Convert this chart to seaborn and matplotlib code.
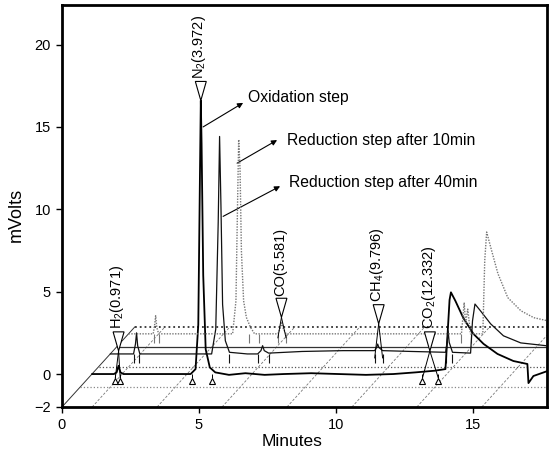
import numpy as np
import pandas as pd
import seaborn as sns
import matplotlib.pyplot as plt
from matplotlib.patches import Polygon

# ---- chromatograms: retention time (min) / signal above own baseline (mV)
ox_t = [0, 0.8, 0.9, 0.97, 1.04, 1.15, 2.0, 3.0, 3.6, 3.78, 3.88, 3.94, 3.972, 4.0, 4.06,
        4.15, 4.3, 4.5, 5.0, 5.6, 6.3, 7.0, 8.0, 9.0, 10.0, 11.0, 11.8, 12.5, 12.9, 12.98,
        13.05, 13.1, 13.26, 13.55, 13.92, 14.29, 14.8, 15.38, 15.89, 15.93, 16.11, 16.62, 17.2]
ox_mv = [0, 0, 0.1, 0.5, 0.1, 0, 0, 0, 0, 0.3, 3.0, 12.0, 16.6, 14.0, 6.0,
         1.5, 0.4, 0.1, -0.05, 0.05, -0.05, 0.0, 0.05, 0.0, -0.05, 0.0, 0.1, 0.2, 0.3, 2.5,
         4.5, 4.96, 4.45, 3.41, 2.44, 1.83, 1.22, 0.79, 0.61, -0.55, -0.12, 0.18, 0.3]

red40_t = [0, 0.85, 0.92, 0.96, 1.0, 1.08, 2.5, 3.7, 3.85, 3.94, 3.99, 4.04, 4.1, 4.2, 4.35,
           5.0, 5.38, 5.5, 5.56, 5.62, 5.78, 7.0, 8.5, 9.65, 9.72, 9.76, 9.8, 9.94, 11.0,
           12.24, 12.3, 12.33, 12.37, 12.49, 13.15, 13.22, 13.31, 13.51, 13.88, 14.35, 14.98,
           15.96, 16.8]
red40_mv = [0, 0, 0.6, 1.28, 0.5, 0, 0, 0, 1.5, 8.0, 13.2, 9.0, 3.0, 0.8, 0.1,
            0, 0, 0.2, 0.5, 0.2, 0.05, 0.15, 0.2, 0.2, 0.4, 0.6, 0.4, 0.2, 0.15,
            0.1, 0.8, 1.4, 0.7, 0.1, 0.05, 2.0, 3.03, 2.62, 1.83, 1.10, 0.67,
            0.49, 0.45]

red10_t = [0, 0.9, 0.95, 0.99, 1.03, 1.1, 2.5, 3.8, 3.92, 3.98, 4.02, 4.07, 4.12, 4.2, 4.3,
           4.45, 4.6, 5.45, 5.53, 5.59, 5.65, 5.75, 8.0, 11.0, 12.15, 12.25, 12.3, 12.38,
           12.48, 12.93, 13.0, 13.07, 13.22, 13.48, 13.84, 14.32, 14.79, 15.3, 16.0]
red10_mv = [0, 0, 0.5, 1.1, 0.4, 0, 0, 0, 2.0, 8.0, 11.8, 10.0, 5.0, 2.0, 1.0,
            0.4, 0, 0, 0.3, 0.67, 0.3, 0, 0, 0, 0, 1.9, 0.6, 1.5,
            0, 0, 4.45, 6.18, 5.24, 3.66, 2.2, 1.4, 0.98, 0.79, 0.7]

# integration marks (min)
ox_marks = [0.85, 1.03, 3.66, 4.39, 12.06, 12.64]
red40_marks = [0.88, 1.06, 4.32, 5.38, 5.78, 9.65, 9.94, 12.24, 12.49]
red10_marks = [0.92, 1.1, 4.4, 4.75, 5.45, 5.75, 12.15, 12.5]

step_names = ["Oxidation step", "Reduction step after 40min", "Reduction step after 10min"]

# peak identification: label, retention time, trace index, tip height (mV)
peak_names = ["H$_2$(0.971)", "N$_2$(3.972)", "CO(5.581)", "CH$_4$(9.796)", "CO$_2$(12.332)"]
peak_times = [0.971, 3.972, 5.581, 9.796, 12.332]
peak_trace = [0, 0, 2, 1, 0]
peak_tip_mv = [1.4, 16.6, 1.0, 1.83, 1.4]

# floor grid lines, front edge (min)
floor_x = [1.1, 3.47, 5.84, 8.21, 10.58, 12.95, 15.32, 17.69]

# ---- layout of the pseudo 3D floor
Y0 = -2.0
DX, DY = 0.667, 1.22     # shift per floor row
ROWS = 4
DEPTH = [1.64, 2.64, 3.64]
XMAX, YMAX = 17.7, 22.4

sns.set_theme(style="white")
plt.rcParams['font.family'] = ['Liberation Sans', 'DejaVu Sans']
plt.rcParams['mathtext.fontset'] = 'custom'
plt.rcParams['mathtext.rm'] = 'Liberation Sans'
plt.rcParams['mathtext.it'] = 'Liberation Sans:italic'
for key in ['text.color', 'axes.labelcolor', 'xtick.color', 'ytick.color']:
    plt.rcParams[key] = 'black'

fig = plt.figure(figsize=(5.53, 4.55), dpi=100)
ax = fig.add_axes([62 / 553, 48 / 455, 485 / 553, 402 / 455])


def place(t, mv, d):
    return np.asarray(t, float) + d * DX, np.asarray(mv, float) + Y0 + d * DY


# floor
bx, by = ROWS * DX, Y0 + ROWS * DY
ax.plot([0, bx], [Y0, by], color='#333333', lw=0.7, zorder=1)
for x0 in floor_x:
    ax.plot([x0, x0 + bx], [Y0, by], color='#777777', lw=0.6, ls=(0, (3, 2)), zorder=1)
row_style = {1: ('#888888', ':', 0.9), 2: ('#555555', ':', 0.9), 3: ('#333333', '-', 0.9),
             4: ('#333333', ':', 1.3)}
for r, (c, ls, lw) in row_style.items():
    ax.plot([r * DX, XMAX + 1], [Y0 + r * DY] * 2, color=c, ls=ls, lw=lw, zorder=1)

# traces
traces = [(ox_t, ox_mv, ox_marks), (red40_t, red40_mv, red40_marks), (red10_t, red10_mv, red10_marks)]
styles = [dict(color='black', lw=1.3), dict(color='#111111', lw=0.9),
          dict(color='#777777', lw=1.0, ls=(0, (1, 1)))]
for i in [2, 1, 0]:
    t, mv, marks = traces[i]
    x, y = place(t, mv, DEPTH[i])
    df = pd.DataFrame({'x': x, 'y': y})
    sns.lineplot(data=df, x='x', y='y', ax=ax, sort=False, estimator=None, zorder=3 + i * 0.1,
                 **styles[i])
    mx, my = place(marks, np.zeros(len(marks)), DEPTH[i])
    if i == 0:
        ax.vlines(mx, my - 0.25, my, color='black', lw=0.7, zorder=3)
        ax.plot(mx, my - 0.4, ls='none', marker='^', ms=4.5, mfc='white', mec='black',
                mew=0.8, zorder=4)
    else:
        ax.vlines(mx, my - 0.55, my, color=styles[i]['color'], lw=0.8, zorder=3)

# peak labels
tw, th = 0.40, 1.16
for name, pt, k, tip in zip(peak_names, peak_times, peak_trace, peak_tip_mv):
    x, y = place([pt], [tip], DEPTH[k])
    x, y = x[0], y[0]
    if tip < 3:
        t, mv, marks = traces[k]
        near = [m for m in marks if abs(m - pt) < 0.4]
        mx, my = place(near, np.zeros(len(near)), DEPTH[k])
        for a, b in zip(mx, my):
            ax.plot([x, a], [y, b - 0.25], color='black', lw=0.7, zorder=4)
    ax.add_patch(Polygon([(x - tw / 2, y + th), (x + tw / 2, y + th), (x, y)], closed=True,
                         facecolor='white', edgecolor='black', lw=0.8, zorder=6))
    ax.text(x - 0.05, y + th + 0.15, name, rotation=90, ha='center', va='bottom',
            fontsize=10.5, zorder=6)

# step annotations
arrows = [((5.15, 15.0), (6.61, 16.46), (6.79, 16.8)),
          ((5.88, 9.57), (7.96, 11.4), (8.28, 11.6)),
          ((6.39, 12.8), (7.85, 14.2), (8.21, 14.2))]
for name, (tail, head, tpos) in zip(step_names, arrows):
    ax.annotate('', xy=head, xytext=tail,
                arrowprops=dict(arrowstyle='-|>', color='black', lw=0.8, mutation_scale=8,
                                shrinkA=0, shrinkB=0))
    ax.text(tpos[0], tpos[1], name, ha='left', va='center', fontsize=11.3)

ax.set_xlim(0, XMAX)
ax.set_ylim(Y0, YMAX)
ax.set_xticks([0, 5, 10, 15])
ax.set_yticks([-2, 0, 5, 10, 15, 20])
ax.tick_params(axis='both', direction='out', length=4, width=1, labelsize=10.5, pad=4,
               bottom=True, left=True, color='black', labelcolor='black')
for s in ax.spines.values():
    s.set_visible(True)
    s.set_color('black')
    s.set_linewidth(2)
ax.set_xlabel('Minutes', fontsize=12.5)
ax.set_ylabel('mVolts', fontsize=13)
ax.xaxis.set_label_coords(0.474, -0.068)
ax.yaxis.set_label_coords(-0.077, 0.478)
ax.grid(False)

fig.savefig('out.png', dpi=100)
